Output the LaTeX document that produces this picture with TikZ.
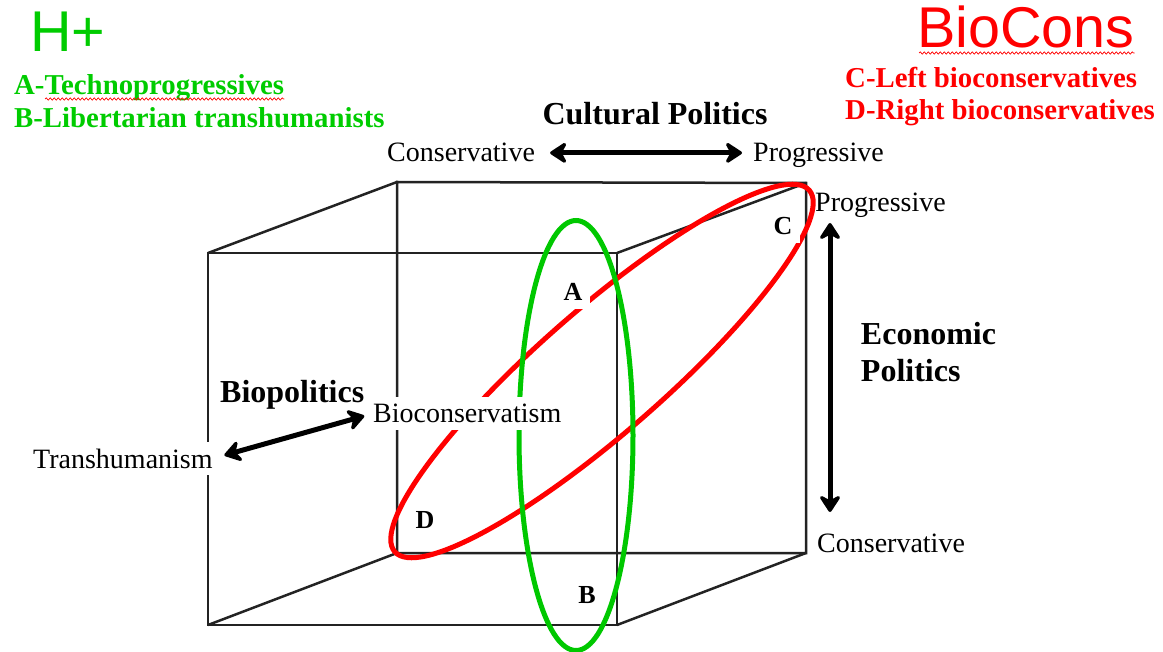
\documentclass[tikz,border=0pt]{standalone}
\usepackage{fontspec}
\setmainfont{Liberation Serif}
\newfontfamily\arialfont{Liberation Sans}
\usetikzlibrary{arrows.meta,decorations.pathmorphing}
\definecolor{hgreen}{RGB}{0,204,0}
\definecolor{egreen}{RGB}{0,200,0}
\definecolor{cred}{RGB}{255,0,0}
\definecolor{edgegray}{RGB}{35,35,35}
\begin{document}
\begin{tikzpicture}[x=1pt,y=-1pt,
  cube/.style={draw=edgegray,line width=2.5pt},
  ring/.style={line width=5pt},
  bigarrow/.style={line width=5pt,
    {Stealth[length=20pt,width=26pt,inset=7pt,round]}-{Stealth[length=20pt,width=26pt,inset=7pt,round]}},
  lab/.style={font=\fontsize{28}{32}\selectfont,inner sep=0pt,anchor=base west},
  heading/.style={font=\fontsize{32}{37}\selectfont\bfseries,inner sep=0pt},
  legend/.style={font=\fontsize{28.8}{32}\selectfont\bfseries,inner sep=0pt,anchor=base west},
  bigtitle/.style={font=\arialfont\fontsize{57.5}{62}\selectfont,inner sep=0pt,anchor=base west},
  letter/.style={font=\fontsize{26}{30}\selectfont\bfseries,inner sep=0pt},
  whitebox/.style={lab,fill=white,inner xsep=0pt,inner ysep=6pt,text height=20pt,text depth=1pt},
  squiggle/.style={draw=cred,line width=0.7pt,decorate,decoration={snake,segment length=4pt,amplitude=1.1pt}}
]
\useasboundingbox (0,0) rectangle (1163,652);
% cube corners
\coordinate (F1) at (208,253);
\coordinate (F2) at (617,253);
\coordinate (F3) at (617,625);
\coordinate (F4) at (208,625);
\coordinate (B1) at (397,182);
\coordinate (B2) at (806,183);
\coordinate (B3) at (806,553);
\coordinate (B4) at (397,553);
\draw[cube] (F1) -- (F2) -- (F3) -- (F4) -- cycle;
\draw[cube] (B1) -- (B2) -- (B3) -- (B4) -- cycle;
\draw[cube] (F1) -- (B1) (F2) -- (B2) (F3) -- (B3) (F4) -- (B4);
% ellipses
\draw[ring,draw=cred] (602,371) ellipse [x radius=275, y radius=62, rotate=41.1];
\draw[ring,draw=egreen] (576,435.5) ellipse [x radius=57, y radius=215];
% legends
\node[bigtitle,text=hgreen] (hplus) at (30,52) {H+};
\node[bigtitle,text=cred] (bcons) at (917,48) {BioCons};
\node[legend,text=hgreen] (legA) at (14,95) {A-Technoprogressives};
\node[legend,text=hgreen] (legB) at (14,128) {B-Libertarian transhumanists};
\node[legend,text=cred] (legC) at (845,88) {C-Left bioconservatives};
\node[legend,text=cred] (legD) at (845,120) {D-Right bioconservatives};
\draw[squiggle] ([xshift=31pt,yshift=-4pt]legA.base west) -- ([yshift=-4pt]legA.base east);
\draw[squiggle] ([xshift=2pt,yshift=-5pt]bcons.base west) -- ([yshift=-5pt]bcons.base east);
% cultural axis
\node[heading,anchor=base] (cult) at (655,125) {Cultural Politics};
\node[lab] (ctop) at (387,162) {Conservative};
\node[lab] (ptop) at (753,162) {Progressive};
\draw[bigarrow,shorten <=15pt,shorten >=11pt] (ctop.east) -- (ctop.east -| ptop.west);
% economic axis
\node[lab] (pright) at (815,212) {Progressive};
\node[lab] (cright) at (817,552) {Conservative};
\coordinate (etop) at (830,223);
\coordinate (ebot) at (830,512);
\draw[bigarrow] (etop) -- (ebot);
\node[heading,align=left,font=\fontsize{32}{37}\selectfont\bfseries] (econ) at (928.5,352) {Economic\\Politics};
% biopolitics axis
\node[heading,anchor=base west] (biop) at (220,403) {Biopolitics};
\node[whitebox] (trans) at (33,468) {Transhumanism};
\node[whitebox] (bcon) at (373,423) {Bioconservatism};
\draw[bigarrow,shorten <=12pt,shorten >=9pt] (trans.east) -- (bcon.west);
% letters
\node[letter,fill=white,inner sep=8pt] (la) at (573,292) {A};
\node[letter] (lb) at (587,595) {B};
\node[letter,fill=white,inner sep=8pt] (lc) at (783,226) {C};
\node[letter] (ld) at (425,520) {D};
\end{tikzpicture}
\end{document}
